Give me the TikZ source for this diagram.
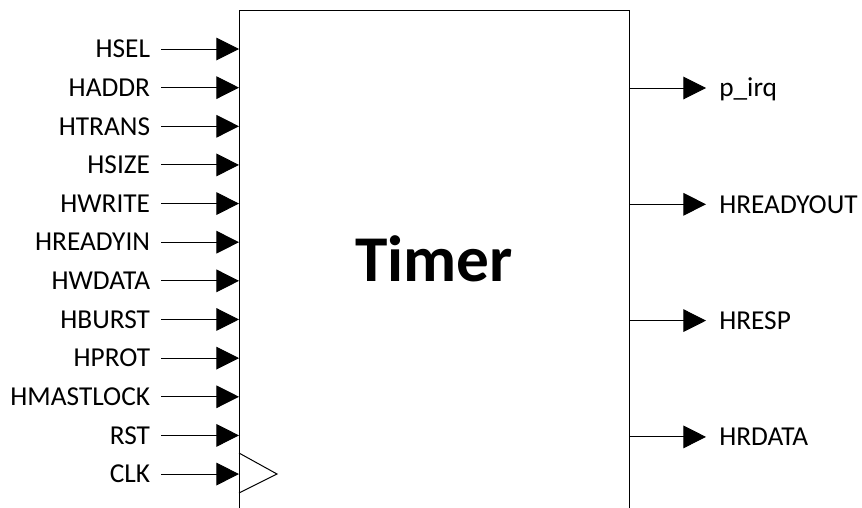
\documentclass[tikz,border=0pt]{standalone}
\usepackage{fontspec}
\setmainfont{Carlito}
\usetikzlibrary{arrows.meta}

\begin{document}
\begin{tikzpicture}[x=0.75pt, y=-0.75pt,
        pinlabel/.style={inner ysep=0pt, text height=13.1pt, text depth=0pt, font=\fontsize{20.5}{24}\selectfont},
        inlabel/.style={pinlabel, anchor=east, inner xsep=8pt},
        outlabel/.style={pinlabel, anchor=west, inner xsep=9.75pt},
        sig/.style={line width=0.75pt, -{Triangle[length=17pt, width=17pt]}},
        blockbox/.style={draw, line width=0.75pt, inner sep=0pt, outer sep=0pt, minimum width=292.5pt, minimum height=379.5pt}]
    \useasboundingbox (0,0) rectangle (862,507);
    \node[blockbox] (timer) at (434,263) {};
    \node[font=\fontsize{49}{58}\selectfont\bfseries, inner sep=0pt, text height=31.5pt, text depth=0pt] (title) at (434,260.5) {Timer};
    % inputs
    \foreach[count=\i] \n in {HSEL,HADDR,HTRANS,HSIZE,HWRITE,HREADYIN,HWDATA,HBURST,HPROT,HMASTLOCK,RST,CLK}
    {
        \node[inlabel] (in\i) at (161,{49+38.64*(\i-1)}) {\n};
        \draw[sig] (in\i) -- (in\i -| timer.west);
    }
    % clock mark
    \draw[line width=0.75pt] (239,453) -- (277,474) -- (239,493);
    % outputs
    \foreach[count=\i] \n in {p\_irq,HREADYOUT,HRESP,HRDATA}
    {
        \node[outlabel] (out\i) at (706,{88+116.3*(\i-1)}) {\n};
        \draw[sig] (out\i -| timer.east) -- (out\i);
    }
\end{tikzpicture}
\end{document}
